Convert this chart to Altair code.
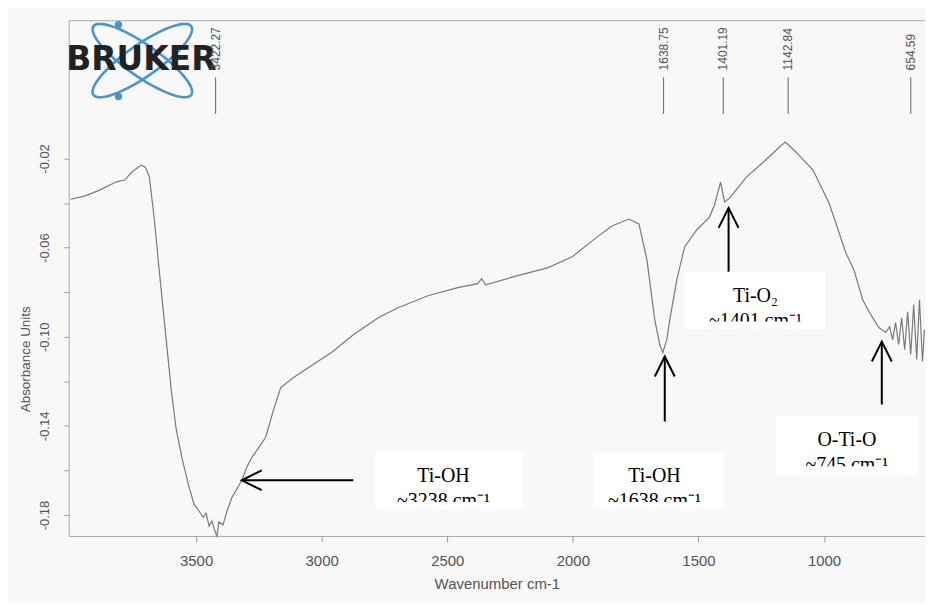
import altair as alt
import pandas as pd
import numpy as np

# ---- spectrum ----
wavenumber = [3999, 3944, 3884, 3817, 3785, 3754, 3734, 3718, 3702, 3686,
              3666, 3647, 3623, 3599, 3579, 3555, 3528, 3508, 3488, 3472,
              3460, 3448, 3437, 3425, 3417, 3409, 3393, 3377, 3357, 3338,
              3318, 3298, 3278, 3250, 3223, 3191, 3163, 3112, 3052, 2961,
              2874, 2775, 2696, 2577, 2458, 2379, 2363, 2347, 2220, 2101,
              2002, 1903, 1844, 1777, 1737, 1705, 1674, 1654, 1642, 1626,
              1614, 1586, 1555, 1507, 1456, 1436, 1412, 1396, 1376, 1309,
              1242, 1178, 1154, 1111, 1044, 980, 913, 881, 846, 814,
              782, 754, 739, 727, 715, 703, 691, 679, 667, 655,
              643, 631, 620, 608, 600]
absorbance = [-0.0383, -0.0369, -0.0342, -0.0305, -0.0297, -0.0260, -0.0243, -0.0230, -0.0239, -0.0282,
              -0.0476, -0.0700, -0.0968, -0.1237, -0.1416, -0.1550, -0.1675, -0.1751, -0.1783, -0.1810,
              -0.1792, -0.1850, -0.1827, -0.1872, -0.1894, -0.1831, -0.1845, -0.1783, -0.1720, -0.1684,
              -0.1644, -0.1586, -0.1541, -0.1496, -0.1451, -0.1326, -0.1228, -0.1183, -0.1138, -0.1071,
              -0.0991, -0.0915, -0.0870, -0.0816, -0.0780, -0.0762, -0.0740, -0.0767, -0.0726, -0.0691,
              -0.0641, -0.0552, -0.0503, -0.0472, -0.0494, -0.0655, -0.0923, -0.1035, -0.1071, -0.1013,
              -0.0923, -0.0744, -0.0597, -0.0521, -0.0463, -0.0409, -0.0306, -0.0395, -0.0378, -0.0284,
              -0.0217, -0.0150, -0.0127, -0.0172, -0.0252, -0.0400, -0.0624, -0.0700, -0.0834, -0.0901,
              -0.0959, -0.0981, -0.0955, -0.1013, -0.0937, -0.1035, -0.0915, -0.1058, -0.0888, -0.1080,
              -0.0857, -0.1102, -0.0834, -0.1111, -0.0968]

# ---- peak picks at the top ----
peak_wn = [3422.27, 1638.75, 1401.19, 1142.84, 654.59]
peak_labels = ["3422.27", "1638.75", "1401.19", "1142.84", "654.59"]
peak_line_top = 0.0164
peak_line_bottom = -0.0001
peak_text_y = 0.0195

# ---- axis ticks ----
x_ticks = [1000, 1500, 2000, 2500, 3000, 3500]
y_ticks = [-0.18, -0.16, -0.14, -0.12, -0.10, -0.08, -0.06, -0.04, -0.02]

# ---- annotation boxes ----
box_left = [2787, 1919, 1555, 1190]
box_right = [2200, 1400, 996, 627]
box_top = [-0.1514, -0.1518, -0.0708, -0.1357]
box_bottom = [-0.1773, -0.1773, -0.0964, -0.1625]
box_center = [2515, 1675, 1273, 909]
box_line1 = ["Ti-OH", "Ti-OH", "Ti-O₂", "O-Ti-O"]
box_line1_y = [-0.1653, -0.1653, -0.0843, -0.1491]
box_line2 = ["~3238 cm⁻¹", "~1638 cm⁻¹", "~1401 cm⁻¹", "~745 cm⁻¹"]
box_line2_y = [-0.1764, -0.1764, -0.0955, -0.1603]
box_clip_y = [-0.1742, -0.1742, -0.0932, -0.1581]

# ---- arrows ----
arrow_tail_wn = [2874, 1634, 1380, 770]
arrow_tip_wn = [3318, 1634, 1380, 770]
arrow_tail_val = [-0.1644, -0.1380, -0.0708, -0.1304]
arrow_tip_val = [-0.1644, -0.1089, -0.0422, -0.1022]
arrow_angle = [270, 0, 0, 0]

# ---- logo placement ----
logo_wn = [3714]
logo_val = [0.0239]
logo_text_val = [0.0195]
logo_text_wn = [3718]
dot_wn = [3809, 3809]
dot_val = [0.0400, 0.0078]

xscale = alt.Scale(domain=[598, 4007], reverse=True, nice=False, zero=False)
yscale = alt.Scale(domain=[-0.1894, 0.042], nice=False, zero=False)

grey = "#555555"
xaxis = alt.Axis(values=x_ticks, format="d", title="Wavenumber cm-1",
                 labelFont="Liberation Sans", labelFontSize=15, labelColor=grey,
                 tickColor="#999999", tickSize=6, labelPadding=12, domain=False, grid=False,
                 titleFont="Liberation Sans", titleFontSize=15, titleFontWeight="normal",
                 titleColor=grey, titlePadding=8)
yaxis = alt.Axis(values=y_ticks, title="Absorbance Units",
                 labelExpr="abs(round(datum.value*100)) % 4 == 2 ? replace(format(datum.value, '.2f'), '−', '-') : ''",
                 labelAngle=270, labelAlign="center", labelBaseline="bottom",
                 labelFont="Liberation Sans", labelFontSize=13, labelColor=grey,
                 tickColor="#999999", tickSize=5, labelPadding=12, domain=False, grid=False,
                 titleFont="Liberation Sans", titleFontSize=13.5, titleFontWeight="normal",
                 titleColor=grey, titlePadding=6, titleY=340, titleAnchor="middle")

def X(field):
    return alt.X(field, type="quantitative", scale=xscale, axis=xaxis)

def Y(field):
    return alt.Y(field, type="quantitative", scale=yscale, axis=yaxis)

spec = pd.DataFrame({"wn": wavenumber, "val": absorbance})
line = alt.Chart(spec).mark_line(color="#7a7a7a", strokeWidth=1.2).encode(
    x=X("wn"), y=Y("val"), order=alt.Order("wn", sort="descending"))

peaks = pd.DataFrame({"wn": peak_wn, "label": peak_labels,
                      "top": [peak_line_top] * 5, "bottom": [peak_line_bottom] * 5,
                      "ty": [peak_text_y] * 5})
peak_rules = alt.Chart(peaks).mark_rule(color="#666666", strokeWidth=1).encode(
    x=X("wn"), y=Y("top"), y2="bottom")
peak_text = alt.Chart(peaks).mark_text(angle=270, align="left", baseline="middle",
                                       font="Liberation Sans", fontSize=12, color=grey).encode(
    x=X("wn"), y=Y("ty"), text="label")

boxes = pd.DataFrame({"x1": box_left, "x2": box_right, "y1": box_top, "y2": box_bottom,
                      "xc": box_center, "t1": box_line1, "t1y": box_line1_y,
                      "t2": box_line2, "t2y": box_line2_y, "cy": box_clip_y})
box_rects = alt.Chart(boxes).mark_rect(color="white").encode(
    x=X("x1"), x2="x2", y=Y("y1"), y2="y2")
box_t2 = alt.Chart(boxes).mark_text(font="Liberation Serif", fontSize=20, baseline="alphabetic",
                                    align="center", color="black").encode(
    x=X("xc"), y=Y("t2y"), text="t2")
box_clip = alt.Chart(boxes).mark_rect(color="white").encode(
    x=X("x1"), x2="x2", y=Y("cy"), y2="y2")
box_t1 = alt.Chart(boxes).mark_text(font="Liberation Serif", fontSize=20, baseline="alphabetic",
                                    align="center", color="black").encode(
    x=X("xc"), y=Y("t1y"), text="t1")

arrows = pd.DataFrame({"xa": arrow_tail_wn, "xb": arrow_tip_wn, "ya": arrow_tail_val,
                       "yb": arrow_tip_val, "ang": arrow_angle})
arrow_shafts = alt.Chart(arrows).mark_rule(color="black", strokeWidth=2).encode(
    x=X("xa"), x2="xb", y=Y("ya"), y2="yb")
arrow_heads = alt.Chart(arrows).mark_point(shape="M -0.5 1 L 0 0 L 0.5 1", size=1600,
                                           filled=False, color="black", strokeWidth=2,
                                           opacity=1).encode(
    x=X("xb"), y=Y("yb"), angle=alt.Angle("ang:Q", scale=None))

# ---- logo geometry (unit square shape path) ----
def ellipse_path(a, b, theta_deg, unit=50.0, n=72):
    t = np.linspace(0, 2 * np.pi, n, endpoint=False)
    th = np.radians(theta_deg)
    xs = (a * np.cos(t) * np.cos(th) - b * np.sin(t) * np.sin(th)) / unit
    ys = (a * np.cos(t) * np.sin(th) + b * np.sin(t) * np.cos(th)) / unit
    pts = [f"{x:.4f} {y:.4f}" for x, y in zip(xs, ys)]
    return "M " + " L ".join(pts) + " Z"

logo_df = pd.DataFrame({"wn": logo_wn, "val": logo_val})
blue = "#4a94cf"
orbit1 = alt.Chart(logo_df).mark_point(shape=ellipse_path(60, 16, 35), size=10000,
                                       filled=False, color=blue, strokeWidth=2.6, opacity=1).encode(
    x=X("wn"), y=Y("val"))
orbit2 = alt.Chart(logo_df).mark_point(shape=ellipse_path(60, 16, -35), size=10000,
                                       filled=False, color=blue, strokeWidth=2.6, opacity=1).encode(
    x=X("wn"), y=Y("val"))
dots = alt.Chart(pd.DataFrame({"wn": dot_wn, "val": dot_val})).mark_point(
    shape="circle", size=55, filled=True, color=blue, opacity=1).encode(x=X("wn"), y=Y("val"))
logo_text = alt.Chart(pd.DataFrame({"wn": logo_text_wn, "val": logo_text_val, "t": ["BRUKER"]})).mark_text(
    font="DejaVu Sans", fontSize=33, fontWeight="bold", color="#222222",
    baseline="alphabetic", align="center").encode(x=X("wn"), y=Y("val"), text="t")

chart = alt.layer(
    line, box_rects, box_t2, box_clip, box_t1, arrow_shafts, arrow_heads,
    orbit1, orbit2, dots, logo_text, peak_rules, peak_text
).properties(
    width=860, height=518,
    padding={"left": 61, "top": 11, "right": 0, "bottom": 66},
    autosize=alt.AutoSizeParams(type="none"),
    background="#f8f8f8",
).configure_view(stroke="#aaaaaa", strokeWidth=1)

chart.save("out.html", embed_options={"renderer": "svg", "actions": False})
